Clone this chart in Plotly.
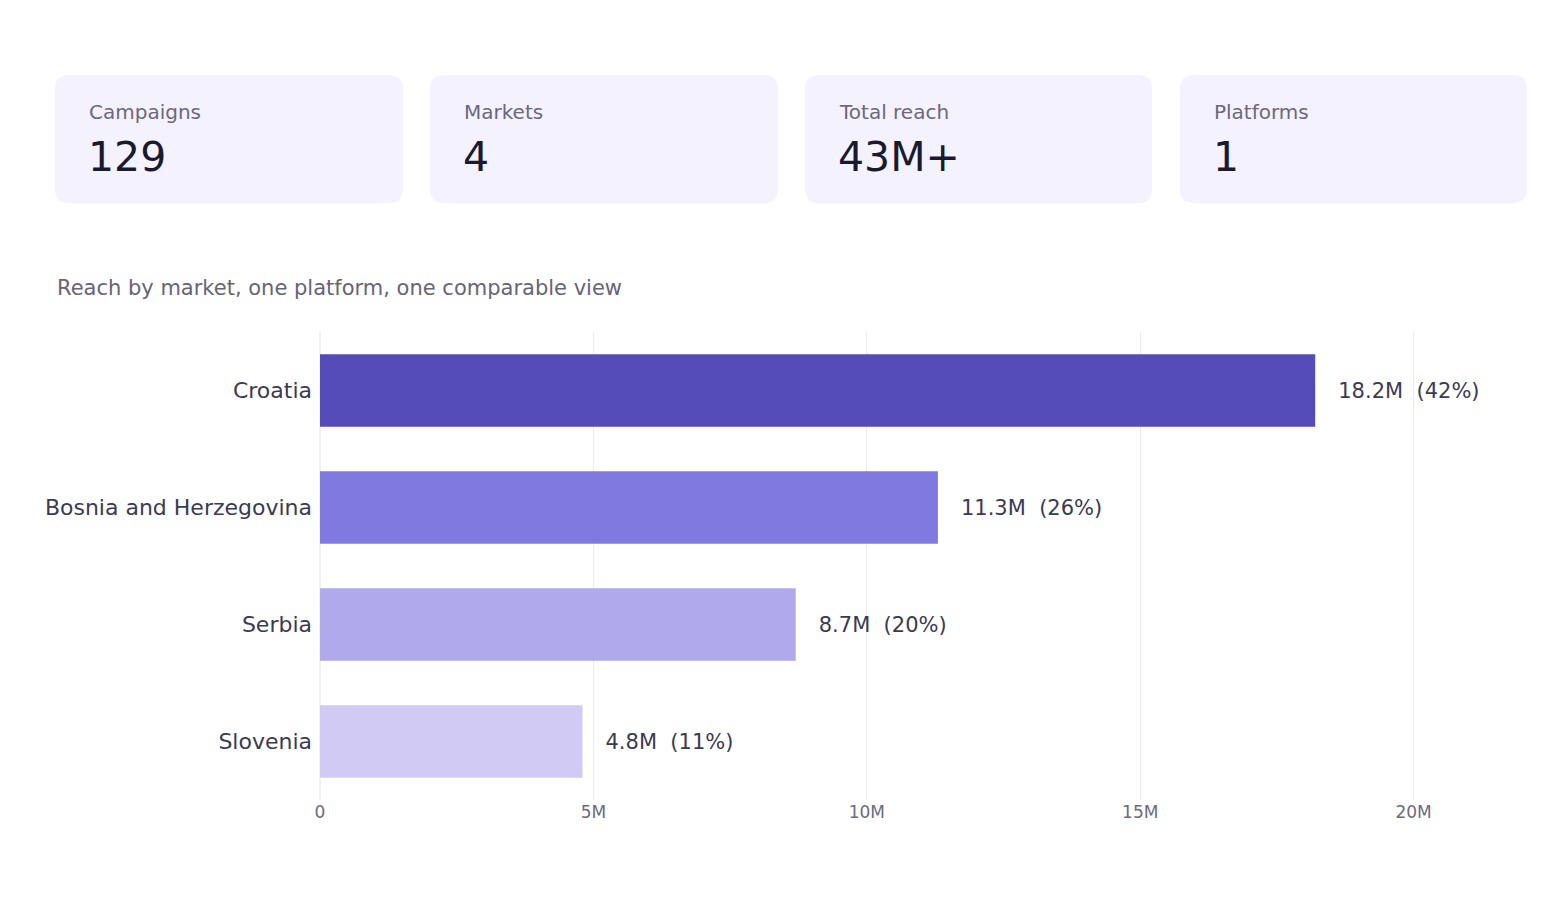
import plotly.graph_objects as go

markets = ["Croatia", "Bosnia and Herzegovina", "Serbia", "Slovenia"]
reach_m = [18.2, 11.3, 8.7, 4.8]
shares = [42, 26, 20, 11]
colors = ["#554CB9", "#8079E0", "#B0A9EC", "#D0CAF5"]
kpi_labels = ["Campaigns", "Markets", "Total reach", "Platforms"]
kpi_values = ["129", "4", "43M+", "1"]
tick_vals = [0, 5, 10, 15, 20]
tick_text = ["0", "5M", "10M", "15M", "20M"]

W, H = 1554, 918
OFF = 8
L, R, T, B = 320 - OFF, 1523 - OFF, 332 - OFF, 800 - OFF

def px(x): return (x - OFF - L) / (R - L)
def py(y): return (B - (y - OFF)) / (B - T)

def rrect(x0, y0, x1, y1, r):
    X0, X1 = px(x0), px(x1)
    rx = r / (R - L); ry = r / (B - T)
    Yt, Yb = py(y0), py(y1)
    return (f"M{X0+rx},{Yt} L{X1-rx},{Yt} Q{X1},{Yt} {X1},{Yt-ry} L{X1},{Yb+ry} "
            f"Q{X1},{Yb} {X1-rx},{Yb} L{X0+rx},{Yb} Q{X0},{Yb} {X0},{Yb+ry} "
            f"L{X0},{Yt-ry} Q{X0},{Yt} {X0+rx},{Yt} Z")

fig = go.Figure(go.Bar(
    y=markets, x=reach_m, orientation="h", width=0.62,
    marker=dict(color=colors, line=dict(width=0)),
    text=[f"   {v}M  ({s}%)" for v, s in zip(reach_m, shares)],
    textposition="outside", textfont=dict(size=21, color="#3a3a55"),
    cliponaxis=False, hoverinfo="skip"))

shapes, annos = [], []
card_x = [(55, 403), (430, 778), (805, 1152), (1180, 1527)]
for (x0, x1), lab, val in zip(card_x, kpi_labels, kpi_values):
    shapes.append(dict(type="path", path=rrect(x0, 75, x1, 203, 14), xref="paper", yref="paper",
                       fillcolor="#F4F2FE", line=dict(width=0), layer="below"))
    annos.append(dict(text=lab, x=px(x0 + 32), y=py(112), xref="paper", yref="paper",
                      xanchor="left", yanchor="middle", showarrow=False,
                      font=dict(size=20, color="#6b6880")))
    annos.append(dict(text=val, x=px(x0 + 31), y=py(157), xref="paper", yref="paper",
                      xanchor="left", yanchor="middle", showarrow=False,
                      font=dict(size=41, color="#1a1a2e")))
annos.append(dict(text="Reach by market, one platform, one comparable view", x=px(55), y=py(288),
                  xref="paper", yref="paper", xanchor="left", yanchor="middle", showarrow=False,
                  font=dict(size=21, color="#666477")))

fig.update_layout(
    width=W, height=H, margin=dict(l=L, r=W - R, t=T, b=H - B),
    paper_bgcolor="white", plot_bgcolor="white", showlegend=False,
    font=dict(family="DejaVu Sans"), shapes=shapes, annotations=annos,
    xaxis=dict(range=[0, 22], tickvals=tick_vals, ticktext=tick_text, showgrid=True,
               gridcolor="#EBEBF0", zeroline=True, zerolinecolor="#F0F0F4",
               tickfont=dict(size=17, color="#6b6b80"), showline=False, fixedrange=True),
    yaxis=dict(autorange="reversed", tickfont=dict(size=22, color="#3a3a55"),
               ticksuffix=" ", showgrid=False, fixedrange=True),
)
fig.write_html("out.html")
